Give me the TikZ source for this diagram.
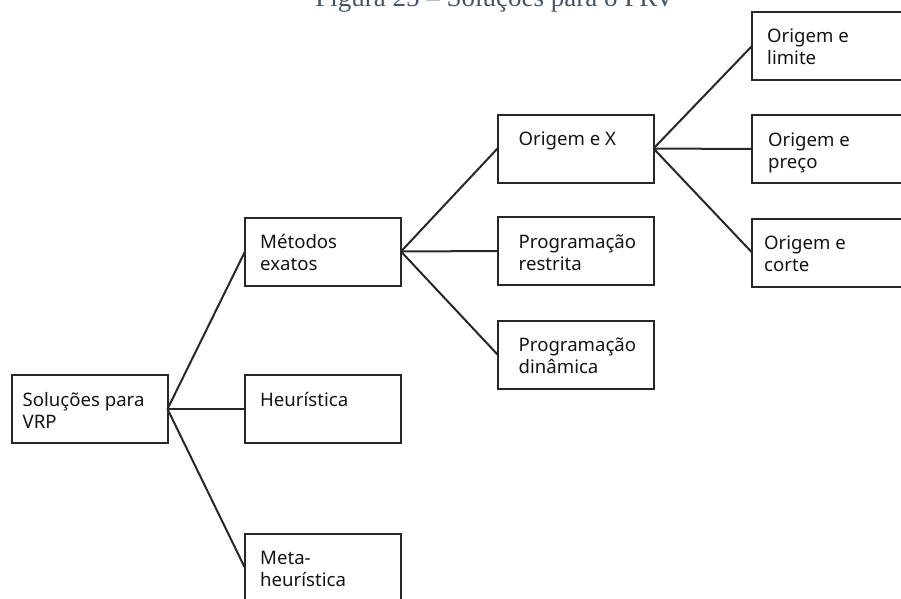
\documentclass[tikz,border=0pt]{standalone}
\usepackage{fontspec}
\setmainfont{Noto Sans}
\newfontfamily\capfont{Liberation Serif}
\definecolor{capc}{RGB}{68,84,106}
\definecolor{ink}{RGB}{40,40,40}
\definecolor{txtc}{RGB}{20,20,20}
\begin{document}
\begin{tikzpicture}[x=1pt,y=-1pt,
 box/.style={draw=ink,line width=2pt,minimum width=156pt,minimum height=68pt,inner sep=0pt,outer sep=0pt},
 txt/.style={anchor=base west,inner sep=0pt,font=\fontsize{18.6}{22}\selectfont,text=txtc},
 link/.style={draw=ink,line width=2pt}]
\useasboundingbox (0,0) rectangle (901,598);
\clip (0,0) rectangle (901,598);
\node[anchor=base,inner sep=0pt,font=\capfont\fontsize{27}{30}\selectfont,text=capc] (cap) at (495,6) {Figura 25 – Soluções para o PRV};
% boxes
\node[box] (sol) at (89.5,409) {};
\node[box] (met) at (323,251.5) {};
\node[box] (heu) at (323,409) {};
\node[box] (meta) at (323,568) {};
\node[box] (ox) at (575.5,148.5) {};
\node[box] (pr) at (575.5,251) {};
\node[box] (pd) at (575.5,354.5) {};
\node[box] (ol) at (830,46) {};
\node[box] (op) at (830,149) {};
\node[box] (oc) at (830,252.5) {};
% texts
\node[txt] (tsol) at ([xshift=11pt,yshift=-31pt]sol.north west) {\parbox[t]{140pt}{\raggedright Soluções para\\VRP}};
\node[txt] (tmet) at ([xshift=15pt,yshift=-31pt]met.north west) {\parbox[t]{140pt}{\raggedright Métodos\\exatos}};
\node[txt] (theu) at ([xshift=15pt,yshift=-31pt]heu.north west) {\parbox[t]{140pt}{\raggedright Heurística}};
\node[txt] (tmeta) at ([xshift=15pt,yshift=-30pt]meta.north west) {\parbox[t]{140pt}{\raggedright Meta-\\heurística}};
\node[txt] (tox) at ([xshift=21pt,yshift=-31pt]ox.north west) {\parbox[t]{140pt}{\raggedright Origem e X}};
\node[txt] (tpr) at ([xshift=21pt,yshift=-31pt]pr.north west) {\parbox[t]{140pt}{\raggedright Programação\\restrita}};
\node[txt] (tpd) at ([xshift=21pt,yshift=-31pt]pd.north west) {\parbox[t]{140pt}{\raggedright Programação\\dinâmica}};
\node[txt] (tol) at ([xshift=15pt,yshift=-30pt]ol.north west) {\parbox[t]{140pt}{\raggedright Origem e\\limite}};
\node[txt] (top) at ([xshift=16pt,yshift=-31pt]op.north west) {\parbox[t]{140pt}{\raggedright Origem e\\preço}};
\node[txt] (toc) at ([xshift=12pt,yshift=-31pt]oc.north west) {\parbox[t]{140pt}{\raggedright Origem e\\corte}};
% links
\draw[link] (sol.east) -- (met.west);
\draw[link] (sol.east) -- (heu.west);
\draw[link] (sol.east) -- (meta.west);
\draw[link] (met.east) -- (ox.west);
\draw[link] (met.east) -- (pr.west);
\draw[link] (met.east) -- (pd.west);
\draw[link] (ox.east) -- (ol.west);
\draw[link] (ox.east) -- (op.west);
\draw[link] (ox.east) -- (oc.west);
\end{tikzpicture}
\end{document}
